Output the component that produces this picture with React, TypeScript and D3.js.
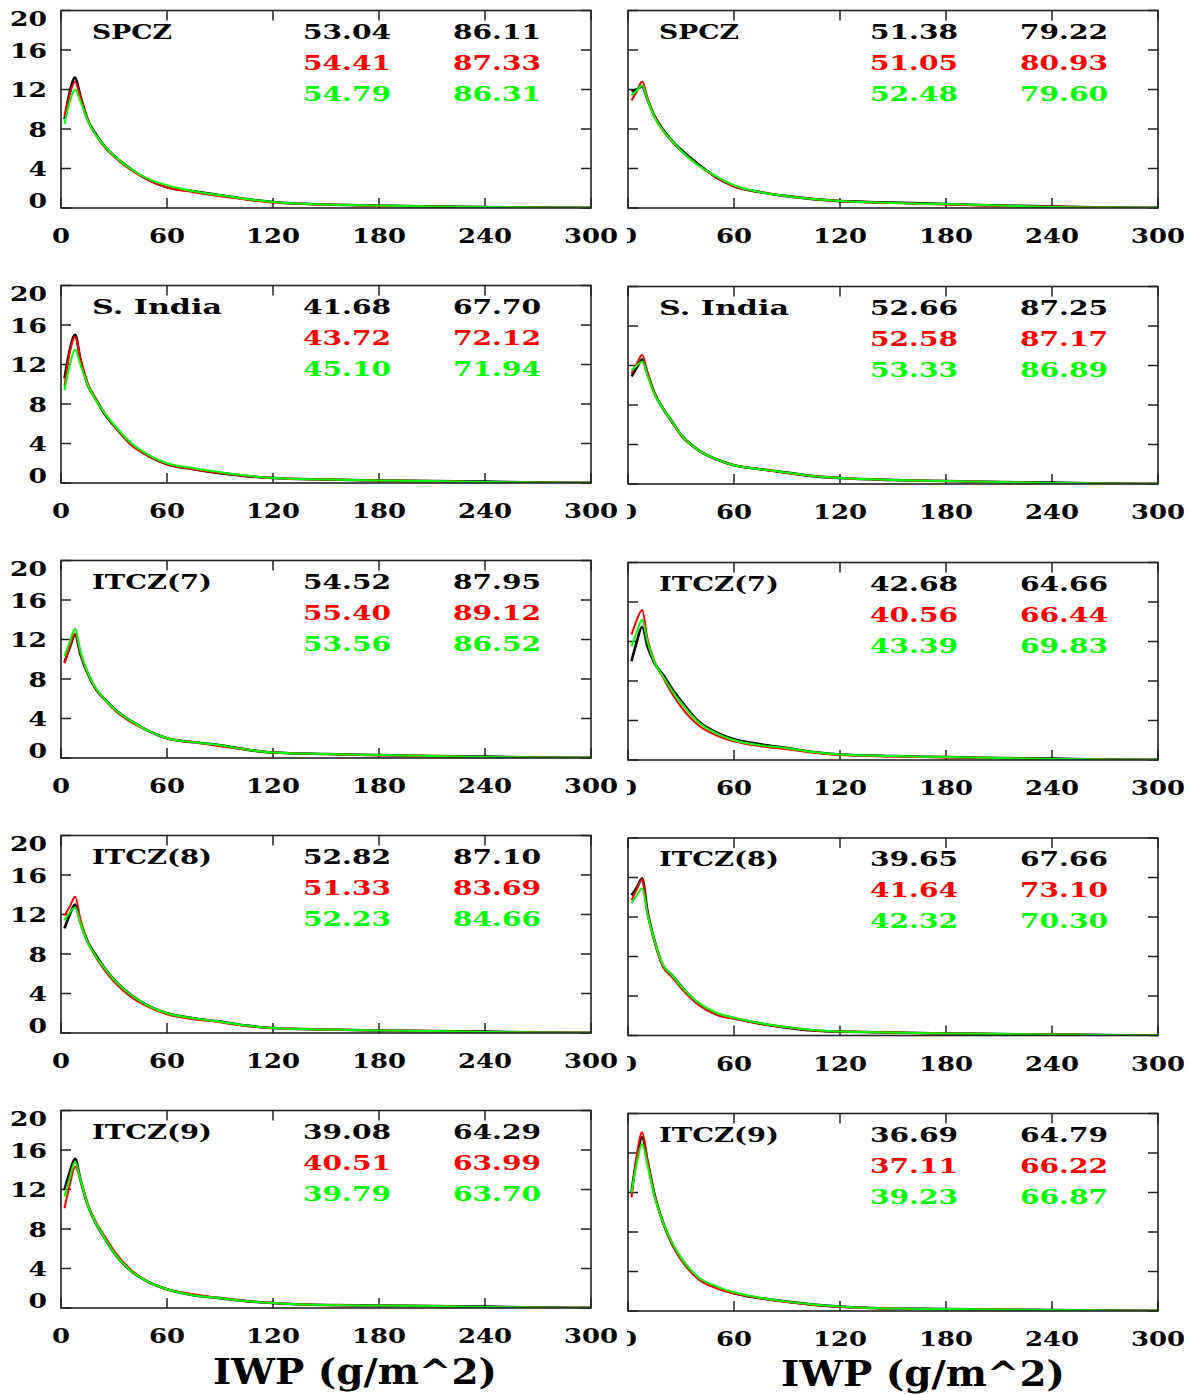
import React from "react";
import * as d3 from "d3";

// IWP bin centres (g/m^2)
const iwpGrid = [2, 5, 8, 11, 15, 20, 25, 30, 40, 50, 60, 75, 90, 105, 120, 150, 180, 210, 240, 270, 300];

// Row 1 : SPCZ
const spczLeftBlack = [9.0, 11.8, 13.2, 11.3, 9.0, 7.4, 6.2, 5.3, 3.9, 2.8, 2.1, 1.7, 1.3, 0.9, 0.6, 0.35, 0.25, 0.15, 0.1, 0.05, 0.02];
const spczLeftRed = [9.3, 11.5, 12.8, 11.2, 9.0, 7.3, 6.1, 5.2, 3.8, 2.8, 2.1, 1.6, 1.2, 0.85, 0.55, 0.35, 0.2, 0.15, 0.1, 0.05, 0.02];
const spczLeftGreen = [8.5, 10.8, 12.0, 10.8, 8.9, 7.3, 6.2, 5.3, 3.9, 2.9, 2.3, 1.7, 1.3, 0.9, 0.6, 0.35, 0.25, 0.15, 0.1, 0.05, 0.02];
const spczRightBlack = [11.8, 12.0, 12.3, 11.0, 9.3, 7.9, 6.8, 5.9, 4.4, 3.1, 2.2, 1.6, 1.2, 0.9, 0.7, 0.55, 0.4, 0.25, 0.15, 0.05, 0.02];
const spczRightRed = [10.9, 11.8, 12.8, 11.2, 9.3, 7.8, 6.7, 5.8, 4.3, 3.1, 2.2, 1.6, 1.2, 0.9, 0.7, 0.5, 0.35, 0.2, 0.15, 0.05, 0.02];
const spczRightGreen = [11.4, 11.9, 12.4, 11.0, 9.2, 7.8, 6.8, 5.8, 4.3, 3.2, 2.3, 1.6, 1.2, 0.9, 0.7, 0.5, 0.4, 0.25, 0.1, 0.05, 0.02];

// Row 2 : S. India
const indiaLeftBlack = [10.6, 13.5, 15.0, 12.5, 10.0, 8.4, 6.9, 5.8, 3.9, 2.7, 1.9, 1.4, 1.0, 0.7, 0.5, 0.35, 0.25, 0.2, 0.15, 0.05, 0.02];
const indiaLeftRed = [9.8, 13.3, 14.8, 12.6, 10.2, 8.4, 7.0, 5.8, 3.8, 2.7, 1.9, 1.4, 1.0, 0.7, 0.5, 0.35, 0.25, 0.2, 0.1, 0.05, 0.02];
const indiaLeftGreen = [9.4, 12.0, 13.5, 12.0, 10.0, 8.3, 7.0, 5.9, 4.0, 2.8, 2.0, 1.5, 1.1, 0.75, 0.5, 0.35, 0.25, 0.2, 0.1, 0.05, 0.02];
const indiaRightBlack = [10.9, 11.8, 12.6, 11.2, 9.2, 7.6, 6.3, 5.0, 3.4, 2.5, 1.9, 1.5, 1.15, 0.8, 0.6, 0.4, 0.3, 0.2, 0.15, 0.05, 0.02];
const indiaRightRed = [11.2, 12.2, 13.1, 11.3, 9.2, 7.6, 6.2, 4.9, 3.4, 2.5, 1.9, 1.5, 1.1, 0.8, 0.6, 0.4, 0.3, 0.2, 0.1, 0.05, 0.02];
const indiaRightGreen = [11.5, 12.0, 12.4, 11.0, 9.1, 7.6, 6.3, 5.0, 3.4, 2.5, 1.9, 1.5, 1.15, 0.8, 0.6, 0.4, 0.3, 0.2, 0.1, 0.05, 0.02];

// Row 3 : ITCZ(7)
const itcz7LeftBlack = [9.7, 11.2, 12.5, 10.5, 8.6, 6.9, 5.9, 5.0, 3.7, 2.7, 2.0, 1.6, 1.3, 0.85, 0.55, 0.4, 0.3, 0.2, 0.15, 0.05, 0.02];
const itcz7LeftRed = [9.6, 11.3, 12.6, 10.6, 8.6, 6.9, 5.9, 4.9, 3.6, 2.7, 2.0, 1.6, 1.2, 0.85, 0.55, 0.4, 0.25, 0.2, 0.1, 0.05, 0.02];
const itcz7LeftGreen = [10.3, 11.8, 13.1, 10.8, 8.7, 7.0, 5.9, 5.0, 3.7, 2.7, 2.0, 1.6, 1.3, 0.85, 0.55, 0.4, 0.3, 0.2, 0.1, 0.05, 0.02];
const itcz7RightBlack = [10.0, 12.0, 13.5, 11.5, 9.8, 8.6, 7.2, 6.0, 3.9, 2.8, 2.1, 1.6, 1.2, 0.8, 0.55, 0.4, 0.3, 0.2, 0.15, 0.05, 0.02];
const itcz7RightRed = [12.7, 14.2, 15.2, 12.3, 10.0, 8.3, 6.7, 5.4, 3.5, 2.5, 1.9, 1.4, 1.1, 0.75, 0.5, 0.35, 0.25, 0.2, 0.1, 0.05, 0.02];
const itcz7RightGreen = [11.5, 13.0, 14.2, 12.0, 9.9, 8.4, 7.0, 5.8, 3.8, 2.7, 2.0, 1.5, 1.2, 0.8, 0.55, 0.4, 0.3, 0.2, 0.1, 0.05, 0.02];

// Row 4 : ITCZ(8)
const itcz8LeftBlack = [10.6, 12.0, 13.0, 11.2, 9.3, 7.8, 6.5, 5.4, 3.8, 2.7, 2.0, 1.5, 1.15, 0.75, 0.5, 0.35, 0.25, 0.2, 0.15, 0.05, 0.02];
const itcz8LeftRed = [11.9, 12.8, 13.8, 11.5, 9.3, 7.6, 6.3, 5.2, 3.6, 2.6, 1.9, 1.4, 1.1, 0.7, 0.5, 0.35, 0.25, 0.2, 0.1, 0.05, 0.02];
const itcz8LeftGreen = [11.4, 12.2, 12.7, 11.1, 9.2, 7.7, 6.5, 5.4, 3.8, 2.7, 2.0, 1.5, 1.15, 0.75, 0.5, 0.35, 0.25, 0.2, 0.1, 0.05, 0.02];
const itcz8RightBlack = [14.2, 15.0, 15.9, 12.6, 9.6, 7.0, 6.1, 5.0, 3.2, 2.2, 1.75, 1.2, 0.8, 0.5, 0.4, 0.3, 0.2, 0.15, 0.1, 0.05, 0.02];
const itcz8RightRed = [13.7, 14.8, 15.8, 12.4, 9.5, 6.9, 5.9, 4.8, 3.1, 2.1, 1.7, 1.2, 0.8, 0.5, 0.4, 0.3, 0.2, 0.15, 0.1, 0.05, 0.02];
const itcz8RightGreen = [13.4, 14.2, 14.9, 12.3, 9.6, 7.1, 6.1, 5.0, 3.3, 2.3, 1.8, 1.25, 0.85, 0.55, 0.4, 0.3, 0.2, 0.15, 0.1, 0.05, 0.02];

// Row 5 : ITCZ(9)
const itcz9LeftBlack = [12.0, 13.8, 15.1, 13.0, 10.5, 8.5, 7.0, 5.6, 3.7, 2.6, 1.9, 1.3, 1.0, 0.7, 0.5, 0.3, 0.25, 0.2, 0.15, 0.05, 0.02];
const itcz9LeftRed = [10.1, 12.5, 14.3, 13.0, 10.6, 8.6, 7.2, 5.8, 3.8, 2.6, 1.9, 1.4, 1.0, 0.7, 0.5, 0.3, 0.25, 0.2, 0.1, 0.05, 0.02];
const itcz9LeftGreen = [11.3, 13.2, 14.8, 13.0, 10.5, 8.5, 7.0, 5.6, 3.7, 2.6, 1.9, 1.3, 1.0, 0.7, 0.5, 0.3, 0.25, 0.2, 0.1, 0.05, 0.02];
const itcz9RightBlack = [12.0, 15.5, 17.6, 15.2, 11.8, 8.9, 6.8, 5.3, 3.3, 2.4, 1.8, 1.3, 0.95, 0.65, 0.45, 0.25, 0.2, 0.15, 0.1, 0.05, 0.02];
const itcz9RightRed = [11.5, 15.8, 18.1, 15.3, 11.8, 8.8, 6.7, 5.2, 3.2, 2.3, 1.8, 1.3, 0.9, 0.6, 0.4, 0.25, 0.2, 0.15, 0.1, 0.05, 0.02];
const itcz9RightGreen = [12.0, 15.0, 16.9, 14.8, 11.6, 8.9, 6.9, 5.4, 3.4, 2.5, 1.9, 1.35, 0.95, 0.65, 0.45, 0.25, 0.2, 0.15, 0.1, 0.05, 0.02];

// Panel titles, row-major (left, right)
const panelTitles = ["SPCZ", "SPCZ", "S. India", "S. India", "ITCZ(7)", "ITCZ(7)", "ITCZ(8)", "ITCZ(8)", "ITCZ(9)", "ITCZ(9)"];

// Statistics printed in each panel: [black, red, green]
const statsFirst = [
  [53.04, 54.41, 54.79], [51.38, 51.05, 52.48],
  [41.68, 43.72, 45.10], [52.66, 52.58, 53.33],
  [54.52, 55.40, 53.56], [42.68, 40.56, 43.39],
  [52.82, 51.33, 52.23], [39.65, 41.64, 42.32],
  [39.08, 40.51, 39.79], [36.69, 37.11, 39.23],
];
const statsSecond = [
  [86.11, 87.33, 86.31], [79.22, 80.93, 79.60],
  [67.70, 72.12, 71.94], [87.25, 87.17, 86.89],
  [87.95, 89.12, 86.52], [64.66, 66.44, 69.83],
  [87.10, 83.69, 84.66], [67.66, 73.10, 70.30],
  [64.29, 63.99, 63.70], [64.79, 66.22, 66.87],
];

const panelSeries = [
  [spczLeftBlack, spczLeftRed, spczLeftGreen], [spczRightBlack, spczRightRed, spczRightGreen],
  [indiaLeftBlack, indiaLeftRed, indiaLeftGreen], [indiaRightBlack, indiaRightRed, indiaRightGreen],
  [itcz7LeftBlack, itcz7LeftRed, itcz7LeftGreen], [itcz7RightBlack, itcz7RightRed, itcz7RightGreen],
  [itcz8LeftBlack, itcz8LeftRed, itcz8LeftGreen], [itcz8RightBlack, itcz8RightRed, itcz8RightGreen],
  [itcz9LeftBlack, itcz9LeftRed, itcz9LeftGreen], [itcz9RightBlack, itcz9RightRed, itcz9RightGreen],
];

const xTicks = [0, 60, 120, 180, 240, 300];
const yTicks = [0, 4, 8, 12, 16, 20];
const seriesColors = ["#000000", "#ff0000", "#00ff00"];
const axisTitle = "IWP (g/m^2)";

// layout
const W = 1190;
const H = 1394;
const colLeft = [61, 628];
const plotW = 530;
const plotH = 197.5;
const rowTops = [10.5, 285.5, 560.5, 835.5, 1110.5];
const rightShift = [0, 1, 2, 2.5, 3];
const FONT = "'DejaVu Serif', 'Liberation Serif', serif";
const fmt = d3.format(".2f");

function Txt({ x, y, text, width, anchor = "start", size = 20, fill = "#000", weight = "bold" }) {
  let x0 = x;
  if (anchor === "end") x0 = x - width;
  if (anchor === "middle") x0 = x - width / 2;
  return (
    <text
      x={x0}
      y={y}
      fontFamily={FONT}
      fontWeight={weight}
      fontSize={size}
      fill={fill}
      textLength={width}
      lengthAdjust="spacingAndGlyphs"
      xmlSpace="preserve"
    >
      {text}
    </text>
  );
}

const titleWidths = { SPCZ: 80, "S. India": 130 };

function Panel({ idx }) {
  const row = Math.floor(idx / 2);
  const col = idx % 2;
  const left = colLeft[col];
  const top = rowTops[row] + (col === 1 ? rightShift[row] : 0);
  const bottom = top + plotH;
  const x = d3.scaleLinear().domain([0, 300]).range([left, left + plotW]);
  const y = d3.scaleLinear().domain([0, 20]).range([bottom, top]);
  const line = d3
    .line<number>()
    .x((_, i) => x(iwpGrid[i]))
    .y((d) => y(d))
    .curve(d3.curveMonotoneX);
  const clipId = `clip-${idx}`;
  const tl = 10;
  const title = panelTitles[idx];
  const tw = titleWidths[title] ?? 120;
  return (
    <g>
      <defs>
        <clipPath id={clipId}>
          <rect x={left} y={top} width={plotW} height={plotH} />
        </clipPath>
        <clipPath id={`lab-${idx}`}>
          <rect x={col === 1 ? 627 : 0} y={0} width={W} height={H} />
        </clipPath>
      </defs>
      {xTicks.map((t) => (
        <g key={`xt${t}`}>
          <line x1={x(t)} x2={x(t)} y1={bottom} y2={bottom - tl} stroke="#222" strokeWidth={1.5} />
          <line x1={x(t)} x2={x(t)} y1={top} y2={top + tl} stroke="#222" strokeWidth={1.5} />
        </g>
      ))}
      {yTicks.map((t) => (
        <g key={`yt${t}`}>
          <line x1={left} x2={left + tl} y1={y(t)} y2={y(t)} stroke="#222" strokeWidth={1.5} />
          <line x1={left + plotW} x2={left + plotW - tl} y1={y(t)} y2={y(t)} stroke="#222" strokeWidth={1.5} />
        </g>
      ))}
      <g clipPath={`url(#${clipId})`}>
        {panelSeries[idx].map((s, k) => (
          <path
            key={k}
            d={line(s) || ""}
            fill="none"
            stroke={seriesColors[k]}
            strokeWidth={k === 0 ? 2.6 : 2}
          />
        ))}
      </g>
      <rect x={left} y={top} width={plotW} height={plotH} fill="none" stroke="#222" strokeWidth={1.6} />
      <g clipPath={`url(#lab-${idx})`}>
        {xTicks.map((t) => (
          <Txt key={`xl${t}`} x={x(t)} y={bottom + 35} text={String(t)} width={String(t).length * 18} anchor="middle" />
        ))}
      </g>
      {col === 0 &&
        yTicks.map((t) => {
          let yy = y(t) + 7.5;
          if (t === 20) yy = top + 15;
          if (t === 0) yy = bottom - 0.5;
          return <Txt key={`yl${t}`} x={47} y={yy} text={String(t)} width={String(t).length * 18.5} anchor="end" />;
        })}
      <Txt x={left + 31} y={top + 28} text={title} width={tw} size={21} />
      {[0, 1, 2].map((k) => (
        <g key={`st${k}`}>
          <Txt x={left + 330} y={top + 28 + k * 31} text={fmt(statsFirst[idx][k])} width={88} anchor="end" fill={seriesColors[k]} />
          <Txt x={left + 480} y={top + 28 + k * 31} text={fmt(statsSecond[idx][k])} width={88} anchor="end" fill={seriesColors[k]} />
        </g>
      ))}
    </g>
  );
}

export default function App() {
  return (
    <svg
      width={W}
      height={H}
      viewBox={`0 0 ${W} ${H}`}
      style={{ position: "absolute", left: 0, top: 0, background: "#fff" }}
    >
      <rect x={0} y={0} width={W} height={H} fill="#fff" />
      {panelTitles.map((_, i) => (
        <Panel key={i} idx={i} />
      ))}
      <Txt x={355} y={1384} text={axisTitle} width={284} anchor="middle" size={35} />
      <Txt x={923} y={1386} text={axisTitle} width={284} anchor="middle" size={35} />
    </svg>
  );
}
